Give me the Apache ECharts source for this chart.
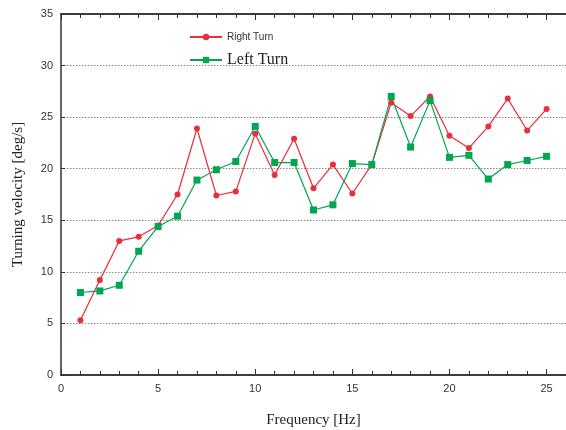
<!DOCTYPE html>
<html><head><meta charset="utf-8">
<script src="https://cdn.jsdelivr.net/npm/echarts@6/dist/echarts.min.js"></script>
<style>html,body{margin:0;padding:0;background:#fff}#c{width:566px;height:430px}</style>
</head><body><div id="c"></div>
<script>
var freq = [1,2,3,4,5,6,7,8,9,10,11,12,13,14,15,16,17,18,19,20,21,22,23,24,25];
var rightTurn = [5.3,9.2,13.0,13.4,14.5,17.5,23.9,17.4,17.8,23.4,19.4,22.9,18.1,20.4,17.6,20.4,26.4,25.1,27.0,23.2,22.0,24.1,26.8,23.7,25.8];
var leftTurn = [8.0,8.15,8.7,12.0,14.4,15.4,18.9,19.9,20.7,24.1,20.6,20.6,16.0,16.5,20.5,20.4,27.0,22.1,26.6,21.1,21.3,19.0,20.4,20.8,21.2];
var yTicks = [0,5,10,15,20,25,30,35];

function pairs(xs, ys){ return xs.map(function(x,i){ return [x, ys[i]]; }); }

var chart = echarts.init(document.getElementById('c'));
var axisLine = {lineStyle:{color:'#333', width:1.5}};
var g = {left:61, right:0, top:14, bottom:55, containLabel:false, outerBoundsMode:'none'};
function minorAxis(pos){
  return {type:'value', gridIndex:1, min:0, max:26, interval:1, position:pos,
    axisLine:{show:true, onZero:false, lineStyle:{color:'#333', width:1.5}},
    axisTick:{show:true, inside:true, length:4, lineStyle:{color:'#333', width:1}},
    splitLine:{show:false}, axisLabel:{show:false}};
}
chart.setOption({
  animation:false,
  backgroundColor:'#fff',
  grid:[g, Object.assign({}, g)],
  legend:{
    orient:'vertical', left:184, top:27, itemWidth:32, itemHeight:8, itemGap:10,
    data:['Right Turn','Left Turn'],
    formatter:function(n){ return n==='Left Turn' ? '{b|Left Turn}' : '{a|Right Turn}'; },
    textStyle:{
      rich:{
        a:{fontFamily:'Liberation Sans, Arial, sans-serif', fontSize:10, color:'#333', height:14},
        b:{fontFamily:'Liberation Serif, Times New Roman, serif', fontSize:16, color:'#222', height:16}
      }
    }
  },
  xAxis:[{
    type:'value', gridIndex:0, min:0, max:26, interval:5, position:'bottom',
    name:'Frequency [Hz]', nameLocation:'middle', nameGap:38,
    nameTextStyle:{fontFamily:'Liberation Serif, Times New Roman, serif', fontSize:15, color:'#222'},
    axisLine:axisLine,
    axisTick:{inside:true, length:6, lineStyle:{color:'#333'}},
    splitLine:{show:false},
    axisLabel:{showMaxLabel:false, fontFamily:'Liberation Sans, Arial, sans-serif', fontSize:11, color:'#333', margin:8}
  },{
    type:'value', gridIndex:0, min:0, max:26, interval:5, position:'top',
    axisLine:axisLine,
    axisTick:{inside:true, length:6, lineStyle:{color:'#333'}},
    splitLine:{show:false}, axisLabel:{show:false}
  }, minorAxis('bottom'), minorAxis('top')],
  yAxis:[{
    type:'value', gridIndex:0, min:0, max:35, interval:5,
    name:'Turning velocity [deg/s]', nameLocation:'middle', nameGap:35,
    nameTextStyle:{fontFamily:'Liberation Serif, Times New Roman, serif', fontSize:15, color:'#222'},
    axisLine:axisLine,
    axisTick:{inside:true, length:4, lineStyle:{color:'#333'}},
    splitLine:{show:true, lineStyle:{type:[1.5,1.5], color:'#888', width:1}},
    axisLabel:{fontFamily:'Liberation Sans, Arial, sans-serif', fontSize:11, color:'#333', margin:8,
      formatter:function(v){ return yTicks.indexOf(v)>=0 ? String(v) : ''; }}
  },{
    type:'value', gridIndex:1, min:0, max:35, interval:5,
    axisLine:{show:false}, axisTick:{show:false}, splitLine:{show:false}, axisLabel:{show:false}
  }],
  series:[{
    name:'Right Turn', type:'line', xAxisIndex:0, yAxisIndex:0, data:pairs(freq, rightTurn),
    symbol:'circle', symbolSize:6, itemStyle:{color:'#ea2e3b'}, lineStyle:{color:'#ea2e3b', width:1.2}
  },{
    name:'Left Turn', type:'line', xAxisIndex:0, yAxisIndex:0, data:pairs(freq, leftTurn),
    symbol:'rect', symbolSize:7, itemStyle:{color:'#00a650'}, lineStyle:{color:'#00a650', width:1.2}
  },{
    name:'_ticks', type:'line', xAxisIndex:2, yAxisIndex:1, data:[], silent:true, showSymbol:false
  }]
});
</script></body></html>
